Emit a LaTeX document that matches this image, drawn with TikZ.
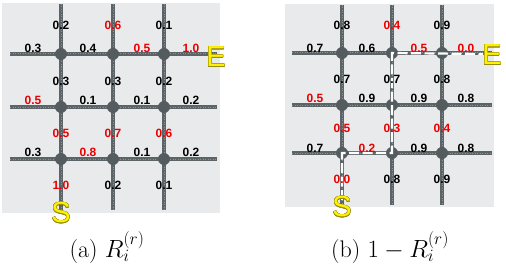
\documentclass[tikz,border=0pt]{standalone}
\usepackage{fontspec}
\usepackage{contour}
\contourlength{0.4pt}
\newfontfamily\labfont{Liberation Sans}
\definecolor{bggray}{RGB}{232,234,236}
\definecolor{ropegray}{RGB}{92,100,104}
\definecolor{ropelight}{RGB}{140,148,152}
\definecolor{dotgray}{RGB}{84,92,96}
\definecolor{labred}{RGB}{235,0,0}
\definecolor{letteryellow}{RGB}{255,242,0}
\definecolor{letteredge}{RGB}{150,140,20}
\tikzset{
  bg/.style={fill=bggray, draw=none},
  rope/.style={line width=4pt, draw=ropegray, postaction={draw=ropelight, line width=1pt, dash pattern=on 1pt off 1.5pt}},
  dot/.style={circle, fill=dotgray, inner sep=0pt, minimum size=12pt},
  lab/.style={font=\labfont\bfseries\fontsize{12}{12}\selectfont, text=black, inner sep=0pt},
  rlab/.style={lab, text=labred},
  letter/.style={font=\labfont\fontsize{29}{29}\selectfont, text=letteryellow, inner sep=0pt},
  pathdash/.style={draw=white, line width=2.2pt, dash pattern=on 10pt off 3.5pt},
  captext/.style={font=\fontsize{24}{28}\selectfont, inner sep=0pt, anchor=base}
}
\newcommand{\edged}[1]{\contour{letteredge}{\textcolor{letteryellow}{#1}}}
\begin{document}
\begin{tikzpicture}[x=1pt,y=-1pt]
\useasboundingbox (0,0) rectangle (506,278);
% ---------- panel (a) ----------
\fill[bg] (2,3) rectangle (220,213);
\foreach \c/\x in {1/61,2/113,3/164}{
  \coordinate (at\c) at (\x,4);
  \coordinate (ab\c) at (\x,210);
}
\foreach \r/\y in {1/54,2/107,3/159}{
  \coordinate (al\r) at (10,\y);
  \coordinate (ar\r) at (217,\y);
}
\foreach \i in {1,2,3}{
  \draw[rope] (at\i) -- (ab\i);
  \draw[rope] (al\i) -- (ar\i);
}
\foreach \r/\y in {1/54,2/107,3/159}{
  \foreach \c/\x in {1/61,2/113,3/164}{
    \node[dot] (a\r\c) at (\x,\y) {};
  }
}
% vertical-edge labels (a)
\node[lab]  (av01) at (61,25) {0.2};
\node[rlab] (av02) at (113,25) {0.6};
\node[lab]  (av03) at (164,25) {0.1};
\node[lab]  (av11) at (61,81) {0.3};
\node[lab]  (av12) at (113,81) {0.3};
\node[lab]  (av13) at (164,81) {0.2};
\node[rlab] (av21) at (61,133) {0.5};
\node[rlab] (av22) at (113,133) {0.7};
\node[rlab] (av23) at (164,133) {0.6};
\node[rlab] (av31) at (61,185) {1.0};
\node[lab]  (av32) at (113,185) {0.2};
\node[lab]  (av33) at (164,185) {0.1};
% horizontal-edge labels (a)
\node[lab]  (ah10) at (33,48) {0.3};
\node[lab]  (ah11) at (88,48) {0.4};
\node[rlab] (ah12) at (142,48) {0.5};
\node[rlab] (ah13) at (191,48) {1.0};
\node[rlab] (ah20) at (33,100) {0.5};
\node[lab]  (ah21) at (88,100) {0.1};
\node[lab]  (ah22) at (142,100) {0.1};
\node[lab]  (ah23) at (191,100) {0.2};
\node[lab]  (ah30) at (33,152) {0.3};
\node[rlab] (ah31) at (88,152) {0.8};
\node[lab]  (ah32) at (142,152) {0.1};
\node[lab]  (ah33) at (191,152) {0.2};
\node[letter] (aS) at (61,213) {\edged{S}};
\node[letter] (aE) at (216,57) {\edged{E}};
% ---------- panel (b) ----------
\fill[bg] (285,4) rectangle (494,207);
\foreach \c/\x in {1/342,2/392,3/442}{
  \coordinate (bt\c) at (\x,5);
  \coordinate (bb\c) at (\x,205);
}
\foreach \r/\y in {1/53,2/105,3/153}{
  \coordinate (bl\r) at (292,\y);
  \coordinate (br\r) at (492,\y);
}
\foreach \i in {1,2,3}{
  \draw[rope] (bt\i) -- (bb\i);
  \draw[rope] (bl\i) -- (br\i);
}
\foreach \r/\y in {1/53,2/105,3/153}{
  \foreach \c/\x in {1/342,2/392,3/442}{
    \node[dot] (b\r\c) at (\x,\y) {};
  }
}
\coordinate (bstart) at (342,200);
\coordinate (bend) at (483,54);
\draw[pathdash] (bstart) -- (b31.center) -- (b32.center) -- (b12.center) -- (bend);
% vertical-edge labels (b)
\node[lab]  (bv01) at (342,25) {0.8};
\node[rlab] (bv02) at (392,25) {0.4};
\node[lab]  (bv03) at (442,25) {0.9};
\node[lab]  (bv11) at (342,79) {0.7};
\node[lab]  (bv12) at (392,79) {0.7};
\node[lab]  (bv13) at (442,79) {0.8};
\node[rlab] (bv21) at (342,128) {0.5};
\node[rlab] (bv22) at (392,128) {0.3};
\node[rlab] (bv23) at (442,128) {0.4};
\node[rlab] (bv31) at (342,179) {0.0};
\node[lab]  (bv32) at (392,179) {0.8};
\node[lab]  (bv33) at (442,179) {0.9};
% horizontal-edge labels (b)
\node[lab]  (bh10) at (315,48) {0.7};
\node[lab]  (bh11) at (367,48) {0.6};
\node[rlab] (bh12) at (419,48) {0.5};
\node[rlab] (bh13) at (466,48) {0.0};
\node[rlab] (bh20) at (315,98) {0.5};
\node[lab]  (bh21) at (367,98) {0.9};
\node[lab]  (bh22) at (419,98) {0.9};
\node[lab]  (bh23) at (466,98) {0.8};
\node[lab]  (bh30) at (315,148) {0.7};
\node[rlab] (bh31) at (367,148) {0.2};
\node[lab]  (bh32) at (419,148) {0.9};
\node[lab]  (bh33) at (466,148) {0.8};
\node[letter] (bS) at (342,207) {\edged{S}};
\node[letter] (bE) at (492,55) {\edged{E}};
% ---------- captions ----------
\node[captext] (capa) at (107,257) {(a) $R_i^{(r)}$};
\node[captext] (capb) at (390,257) {(b) $1-R_i^{(r)}$};
\end{tikzpicture}
\end{document}
